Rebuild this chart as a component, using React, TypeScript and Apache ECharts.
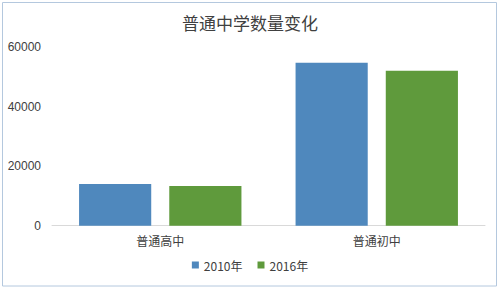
import React, { useEffect, useRef } from "react";
import * as echarts from "echarts";

const categories = ["普通高中", "普通初中"];
const seriesNames = ["2010年", "2016年"];
const values2010 = [14060, 54820];
const values2016 = [13380, 52120];
const yMax = 60000;
const yInterval = 20000;
const titleText = "普通中学数量变化";

export default function App() {
  const ref = useRef<HTMLDivElement>(null);
  useEffect(() => {
    if (!ref.current) return;
    const chart = echarts.init(ref.current, undefined, { renderer: "svg" });
    const font = "'Noto Sans CJK SC', 'Liberation Sans', sans-serif";
    chart.setOption({
      animation: false,
      backgroundColor: "#ffffff",
      textStyle: { fontFamily: font },
      title: {
        text: titleText,
        left: "center",
        top: 9,
        textStyle: { fontSize: 17, fontWeight: "normal", color: "#404040", fontFamily: font },
      },
      graphic: [
        {
          type: "rect",
          shape: { x: 2.5, y: 2.5, width: 494, height: 283.5 },
          style: { fill: "none", stroke: "#b4c8de", lineWidth: 1 },
          silent: true,
        },
      ],
      legend: {
        data: seriesNames,
        bottom: 12,
        left: "center",
        itemWidth: 7,
        itemHeight: 7,
        itemGap: 15,
        icon: "rect",
        textStyle: { fontSize: 12, color: "#404040", fontFamily: font },
      },
      grid: { left: 52, right: 15, top: 47.3, bottom: 62.3, containLabel: false },
      xAxis: {
        type: "category",
        data: categories,
        axisLine: { lineStyle: { color: "#d9d9d9", width: 1 } },
        axisTick: { show: false },
        axisLabel: { fontSize: 12, color: "#404040", margin: 9, fontFamily: font },
      },
      yAxis: {
        type: "value",
        min: 0,
        max: yMax,
        interval: yInterval,
        splitLine: { show: false },
        axisLine: { show: false },
        axisTick: { show: false },
        axisLabel: {
          fontSize: 12,
          color: "#404040",
          margin: 11,
          fontFamily: "'Liberation Sans', sans-serif",
          formatter: (v: number) => String(v),
        },
      },
      series: [
        {
          name: seriesNames[0],
          type: "bar",
          data: values2010,
          itemStyle: { color: "#4f88bd" },
          barGap: "25%",
          barCategoryGap: "25%",
        },
        {
          name: seriesNames[1],
          type: "bar",
          data: values2016,
          itemStyle: { color: "#5f9a3c" },
          barGap: "25%",
          barCategoryGap: "25%",
        },
      ],
    });
    return () => chart.dispose();
  }, []);
  return (
    <div
      ref={ref}
      style={{ position: "fixed", left: 0, top: 0, width: 500, height: 288 }}
    />
  );
}
